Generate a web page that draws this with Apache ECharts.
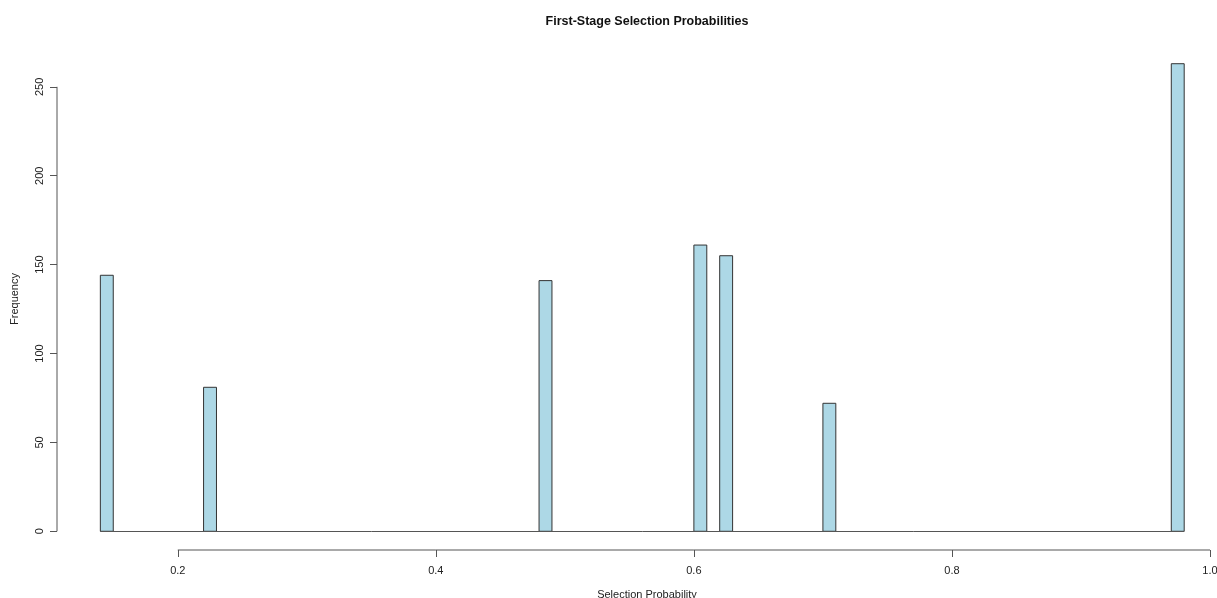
<!DOCTYPE html>
<html>
<head>
<meta charset="utf-8">
<script src="https://cdn.jsdelivr.net/npm/echarts@6/dist/echarts.min.js"></script>
<style>
html,body{margin:0;padding:0;background:#fff;}
#chart{width:1217px;height:598px;}
</style>
</head>
<body>
<div id="chart"></div>
<script>
// Histogram data (bin width 0.01)
const binStarts = [0.14, 0.22, 0.48, 0.60, 0.62, 0.70, 0.97];
const counts = [144, 81, 141, 161, 155, 72, 263];
const binWidth = 0.01;
const breaksRange = [0.14, 0.98];
const xTicks = [0.2, 0.4, 0.6, 0.8, 1.0];
const yTicks = [0, 50, 100, 150, 200, 250];

const titleText = 'First-Stage Selection Probabilities';
const xLabel = 'Selection Probability';
const yLabel = 'Frequency';

// R-style 4% axis extension
const xSpan = breaksRange[1] - breaksRange[0];
const xMin = breaksRange[0] - 0.04 * xSpan;
const yMaxData = Math.max.apply(null, counts);
const yMin = -0.04 * yMaxData;
const yMax = yMaxData * 1.04;

const barData = binStarts.map((s, i) => [s, s + binWidth, counts[i]]);

const chart = echarts.init(document.getElementById('chart'), null, {renderer: 'canvas'});
const txt = '#222';
const axisCol = '#555';
const font = 'Liberation Sans, Arial, sans-serif';

const axisLineSeries = (pts) => ({
  type: 'line', data: pts, symbol: 'none', silent: true, clip: false,
  lineStyle: {color: axisCol, width: 1}, z: 3
});

chart.setOption({
  animation: false,
  backgroundColor: '#fff',
  title: [
    {text: titleText, left: 642, top: 10, textAlign: 'center',
     textStyle: {fontFamily: font, fontSize: 12.5, fontWeight: 'bold', color: '#111'}},
    {text: xLabel, left: 642, top: 584, textAlign: 'center',
     textStyle: {fontFamily: font, fontSize: 11, fontWeight: 'normal', color: txt}}
  ],
  graphic: [{
    type: 'text', left: 9, top: 'middle', rotation: Math.PI / 2,
    style: {text: yLabel, font: '11px Liberation Sans, Arial, sans-serif', fill: txt}
  }],
  grid: {left: 57, right: 7, top: 45, bottom: 48, outerBoundsMode: 'none', containLabel: false},
  xAxis: {
    type: 'value', min: xMin, max: 1.0,
    axisLine: {show: false, onZero: false},
    splitLine: {show: false},
    axisTick: {show: true, length: 7, lineStyle: {color: axisCol}, customValues: xTicks},
    axisLabel: {show: true, color: txt, fontFamily: font, fontSize: 11, margin: 15,
      customValues: xTicks, showMinLabel: true, showMaxLabel: true,
      formatter: v => v.toFixed(1)}
  },
  yAxis: {
    type: 'value', min: yMin, max: yMax,
    axisLine: {show: false, onZero: false},
    splitLine: {show: false},
    axisTick: {show: true, length: 7, lineStyle: {color: axisCol}, customValues: yTicks},
    axisLabel: {show: true, color: txt, fontFamily: font, fontSize: 11, margin: 12,
      rotate: 90, customValues: yTicks, formatter: v => String(Math.round(v))}
  },
  series: [{
    type: 'custom',
    clip: false,
    data: barData,
    encode: {x: [0, 1], y: 2},
    renderItem: function (params, api) {
      const p0 = api.coord([api.value(0), api.value(2)]);
      const p1 = api.coord([api.value(1), 0]);
      return {
        type: 'rect',
        shape: {x: p0[0], y: p0[1], width: p1[0] - p0[0], height: p1[1] - p0[1]},
        style: {fill: '#ADD8E6', stroke: '#333', lineWidth: 1}
      };
    },
    markLine: {
      silent: true, symbol: 'none', label: {show: false},
      lineStyle: {type: 'solid', width: 1, color: axisCol},
      data: [
        [{coord: [breaksRange[0], 0]}, {coord: [breaksRange[1], 0]}]
      ]
    }
  },
  axisLineSeries([[xTicks[0], yMin], [xTicks[xTicks.length - 1], yMin]]),
  axisLineSeries([[xMin, yTicks[0]], [xMin, yTicks[yTicks.length - 1]]])
  ]
});
</script>
</body>
</html>
